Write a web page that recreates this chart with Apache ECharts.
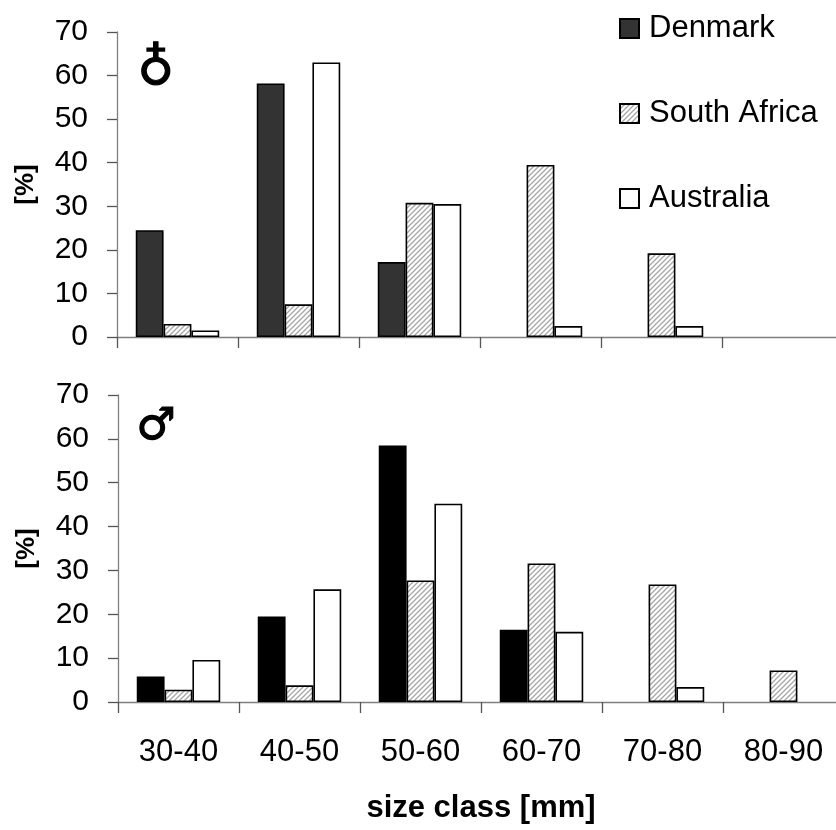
<!DOCTYPE html>
<html><head><meta charset="utf-8">
<script src="https://cdn.jsdelivr.net/npm/echarts@6/dist/echarts.min.js"></script>
<style>html,body{margin:0;padding:0;background:#fff}#c{width:836px;height:830px}</style>
</head><body><div id="c"></div>
<script>
const categories = ['30-40','40-50','50-60','60-70','70-80','80-90'];
const femaleDenmark = [24.5, 58.2, 17.2, 0, 0, 0];
const femaleSouthAfrica = [3.0, 7.5, 30.8, 39.5, 19.2, 0];
const femaleAustralia = [1.5, 63.0, 30.5, 2.5, 2.5, 0];
const maleDenmark = [5.8, 19.5, 58.5, 16.5, 0, 0];
const maleSouthAfrica = [2.8, 3.8, 27.7, 31.6, 26.8, 7.2];
const maleAustralia = [9.6, 25.7, 45.2, 16.0, 3.4, 0];
const seriesNames = ['Denmark','South Africa','Australia'];

const FONT = '"Liberation Sans", Arial, sans-serif';

function hatch(){
  const c = document.createElement('canvas');
  c.width = 5; c.height = 5;
  const g = c.getContext('2d');
  g.fillStyle = '#ffffff'; g.fillRect(0,0,5,5);
  g.strokeStyle = '#a6a6a6'; g.lineWidth = 1.3;
  g.beginPath();
  g.moveTo(-1,6); g.lineTo(6,-1);
  g.moveTo(-1,1); g.lineTo(1,-1);
  g.moveTo(4,6); g.lineTo(6,4);
  g.stroke();
  return c;
}
const hatchImg = hatch();

const nz = a => a.map(v => v === 0 ? '-' : v);

const grids = [
  {left:117, top:32, width:726, height:305, outerBoundsMode:'none', containLabel:false},
  {left:118, top:395, width:726, height:307, outerBoundsMode:'none', containLabel:false}
];
function xAxis(i){
  return {
    type:'category', gridIndex:i, data:categories, boundaryGap:true,
    axisLine:{lineStyle:{color:'#7f7f7f', width:1.3}},
    axisTick:{show:true, alignWithLabel:false, length:11, lineStyle:{color:'#555', width:1.3}},
    axisLabel: i===1 ? {show:true, margin:35, fontSize:31, color:'#000', fontFamily:FONT} : {show:false},
    name: i===1 ? 'size class [mm]' : '',
    nameLocation:'middle', nameGap:91,
    nameTextStyle:{fontSize:31, fontWeight:'bold', color:'#000', fontFamily:FONT}
  };
}
function yAxis(i){
  return {
    type:'value', gridIndex:i, min:0, max:70, interval:10,
    splitLine:{show:false},
    axisLine:{show:true, lineStyle:{color:'#7f7f7f', width:1.3}},
    axisTick:{show:true, length:10, lineStyle:{color:'#555', width:1.3}},
    axisLabel:{margin:29, fontSize:30, color:'#000', fontFamily:FONT},
    name:'[%]', nameLocation:'middle', nameGap:78, nameRotate:90,
    nameTextStyle:{fontSize:26, fontWeight:'bold', color:'#000', fontFamily:FONT}
  };
}
function bar(name, data, i, color){
  return {
    type:'bar', name:name, xAxisIndex:i, yAxisIndex:i, data:nz(data),
    barWidth:'23%', barGap:'0%',
    itemStyle:{color:color, borderColor:'#000', borderWidth:1.6},
    emphasis:{disabled:true}
  };
}
const pattern = {image:hatchImg, repeat:'repeat'};
const option = {
  animation:false,
  backgroundColor:'#fff',
  grid:grids,
  xAxis:[xAxis(0), xAxis(1)],
  yAxis:[yAxis(0), yAxis(1)],
  legend:{
    orient:'vertical', left:614, top:8, itemWidth:19, itemHeight:19, itemGap:54,
    data:seriesNames, icon:'rect',
    textStyle:{fontSize:31, color:'#000', fontFamily:FONT, lineHeight:30, padding:[0,0,0,5]}
  },
  series:[
    bar('Denmark', femaleDenmark, 0, '#333333'),
    bar('South Africa', femaleSouthAfrica, 0, pattern),
    bar('Australia', femaleAustralia, 0, '#ffffff'),
    bar('Denmark', maleDenmark, 1, '#000000'),
    bar('South Africa', maleSouthAfrica, 1, pattern),
    bar('Australia', maleAustralia, 1, '#ffffff')
  ],
  graphic:[
    {type:'text', left:137, top:45, style:{text:'\u2641', fontSize:50, fontWeight:'bold', fill:'#000', stroke:'#000', lineWidth:1.2, fontFamily:'"DejaVu Sans"'}},
    {type:'text', left:136, top:405, style:{text:'\u2642', fontSize:44, fontWeight:'bold', fill:'#000', stroke:'#000', lineWidth:1.2, fontFamily:'"DejaVu Sans"'}}
  ]
};
const chart = echarts.init(document.getElementById('c'), null, {renderer:'canvas'});
chart.setOption(option);
</script></body></html>
